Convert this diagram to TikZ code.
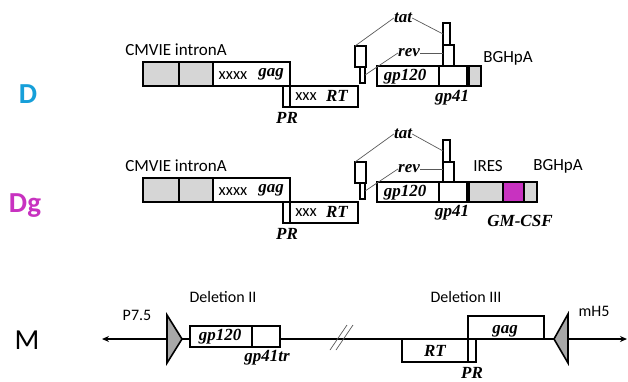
\documentclass[tikz,border=0pt]{standalone}
\usepackage{fontspec}
\setmainfont{Carlito}
\newfontfamily\genefont{Liberation Serif}
\usepackage{xcolor}
\usetikzlibrary{arrows.meta}
\definecolor{dblue}{HTML}{169FD9}
\definecolor{dgmag}{HTML}{C832C0}
\definecolor{boxgray}{HTML}{D6D6D6}
\definecolor{trigray}{HTML}{A8A8A8}

\tikzset{
  box/.style={draw, line width=1.3pt, inner sep=0pt, outer sep=0pt, anchor=north west, fill=white},
  graybox/.style={box, fill=boxgray},
  lab/.style={inner sep=0pt, font=\fontsize{17}{19}\selectfont},
  mlab/.style={inner sep=0pt, font=\fontsize{16}{18}\selectfont},
  xlab/.style={inner sep=0pt, font=\fontsize{16.5}{18}\selectfont},
  gene/.style={inner sep=0pt, font=\fontsize{17}{19}\selectfont\genefont\bfseries\itshape},
  conn/.style={draw=gray!70!black, line width=0.7pt},
}

\begin{document}
\begin{tikzpicture}[x=1pt,y=-1pt]
\useasboundingbox (0,0) rectangle (628,381);

% row D
\node[font=\fontsize{29}{31}\selectfont\bfseries, text=dblue] (dname) at (28,94) {D};
\node[lab] (dcmv) at (176,50) {CMVIE intronA};
\node[graybox, minimum width=36pt, minimum height=24pt] (dcmva) at (143,62) {};
\node[graybox, minimum width=34pt, minimum height=24pt] (dcmvb) at (179,62) {};
\node[box, minimum width=77pt, minimum height=24pt] (dgag) at (213,62) {};
\node[box, minimum width=7pt, minimum height=21pt] (dpr) at (283,86) {};
\node[box, minimum width=68pt, minimum height=21pt] (drt) at (290,86) {};
\node[xlab] at (233,76) {xxxx};
\node[gene] at (271,74) {gag};
\node[xlab] at (306,97) {xxx};
\node[gene] at (337,96) {RT};
\node[gene] at (287,118) {PR};
\node[box, minimum width=11pt, minimum height=21pt] (dtata) at (355,46) {};
\node[box, minimum width=5pt, minimum height=16pt] (dreva) at (360,67) {};
\node[box, minimum width=62pt, minimum height=20pt] (dgp120) at (377,66) {};
\node[box, minimum width=28pt, minimum height=20pt] (dgp41) at (439,66) {};
\node[box, minimum width=7pt, minimum height=22pt] (dtatb) at (443,23) {};
\node[box, minimum width=11pt, minimum height=21pt] (drevb) at (443,45) {};
\node[graybox, minimum width=12pt, minimum height=20pt] (dbgh) at (469,66) {};
\node[gene] at (405,77) {gp120};
\node[gene] at (452,98) {gp41};
\node[lab] (dbghlab) at (508,58) {BGHpA};
\node[gene] (dtat) at (403,18) {tat};
\node[gene] (drev) at (409,53) {rev};
\draw[conn] (dtata.north west) -- (dtat.west);
\draw[conn] (dtat.east) -- (dtatb.west);
\draw[conn] (drev.east) -- (drev.east -| drevb.west);
\draw[conn] (drev.west) -- (dreva.east);

% row Dg
\node[font=\fontsize{29}{31}\selectfont\bfseries, text=dgmag] (dgname) at (25,206) {Dg};
\node[lab] (gcmv) at (176,166) {CMVIE intronA};
\node[graybox, minimum width=36pt, minimum height=24pt] (gcmva) at (143,178) {};
\node[graybox, minimum width=34pt, minimum height=24pt] (gcmvb) at (179,178) {};
\node[box, minimum width=77pt, minimum height=24pt] (ggag) at (213,178) {};
\node[box, minimum width=7pt, minimum height=21pt] (gpr) at (283,202) {};
\node[box, minimum width=68pt, minimum height=21pt] (grt) at (290,202) {};
\node[xlab] at (233,192) {xxxx};
\node[gene] at (271,190) {gag};
\node[xlab] at (306,213) {xxx};
\node[gene] at (337,212) {RT};
\node[gene] at (287,234) {PR};
\node[box, minimum width=11pt, minimum height=21pt] (gtata) at (355,162) {};
\node[box, minimum width=5pt, minimum height=16pt] (greva) at (360,183) {};
\node[box, minimum width=62pt, minimum height=20pt] (ggp120) at (377,182) {};
\node[box, minimum width=28pt, minimum height=20pt] (ggp41) at (439,182) {};
\node[box, minimum width=7pt, minimum height=22pt] (gtatb) at (443,140) {};
\node[box, minimum width=11pt, minimum height=20pt] (grevb) at (443,162) {};
\node[graybox, minimum width=34pt, minimum height=20pt] (gires) at (469,182) {};
\node[box, fill=dgmag, minimum width=21pt, minimum height=20pt] (gcsf) at (503,182) {};
\node[graybox, minimum width=13pt, minimum height=20pt] (gbgh) at (524,182) {};
\node[gene] at (405,193) {gp120};
\node[gene] at (452,213) {gp41};
\node[lab] (gireslab) at (488,166) {IRES};
\node[lab] (gbghlab) at (558,166) {BGHpA};
\node[gene] (gcsflab) at (520,221) {GM-CSF};
\node[gene] (gtat) at (403,134) {tat};
\node[gene] (grev) at (409,169) {rev};
\draw[conn] (gtata.north west) -- (gtat.west);
\draw[conn] (gtat.east) -- (gtatb.west);
\draw[conn] (grev.east) -- (grev.east -| grevb.west);
\draw[conn] (grev.west) -- (greva.east);

% row M
\node[font=\fontsize{29}{31}\selectfont] (mname) at (27,340) {M};
\coordinate (mleft) at (102,339);
\coordinate (mright) at (627,339);
\draw[line width=1.5pt, -{Stealth[length=7pt,width=6pt]}] (167,339) -- (mleft);
\draw[line width=1.5pt, -{Stealth[length=7pt,width=6pt]}] (167,339) -- (mright);
\fill[trigray, draw=black, line width=1.6pt, line join=miter] (167,315) -- (167,363) -- (182,339) -- cycle;
\fill[trigray, draw=black, line width=1.6pt, line join=miter] (568,314) -- (568,363) -- (554,339) -- cycle;
\draw[conn] (330,350) -- (347,325);
\draw[conn] (336,350) -- (353,325);
\node[box, minimum width=62pt, minimum height=21pt] (mgp120) at (190,326) {};
\node[box, minimum width=28pt, minimum height=21pt] (mgp41) at (252,326) {};
\node[box, fill=none, minimum width=66pt, minimum height=23pt] (mrt) at (402,339) {};
\node[box, fill=none, minimum width=8pt, minimum height=23pt] (mpr) at (468,339) {};
\node[box, fill=none, minimum width=76pt, minimum height=23pt] (mgag) at (468,316) {};
\node[gene] at (220,337) {gp120};
\node[gene] at (267,358) {gp41tr};
\node[gene] at (435,351) {RT};
\node[gene] at (472,373) {PR};
\node[gene] at (505,331) {gag};
\node[mlab] (mdel2) at (223,297) {Deletion II};
\node[mlab] (mdel3) at (466,297) {Deletion III};
\node[mlab] (mp75) at (137,315) {P7.5};
\node[mlab] (mh5) at (594,311) {mH5};
\end{tikzpicture}
\end{document}
